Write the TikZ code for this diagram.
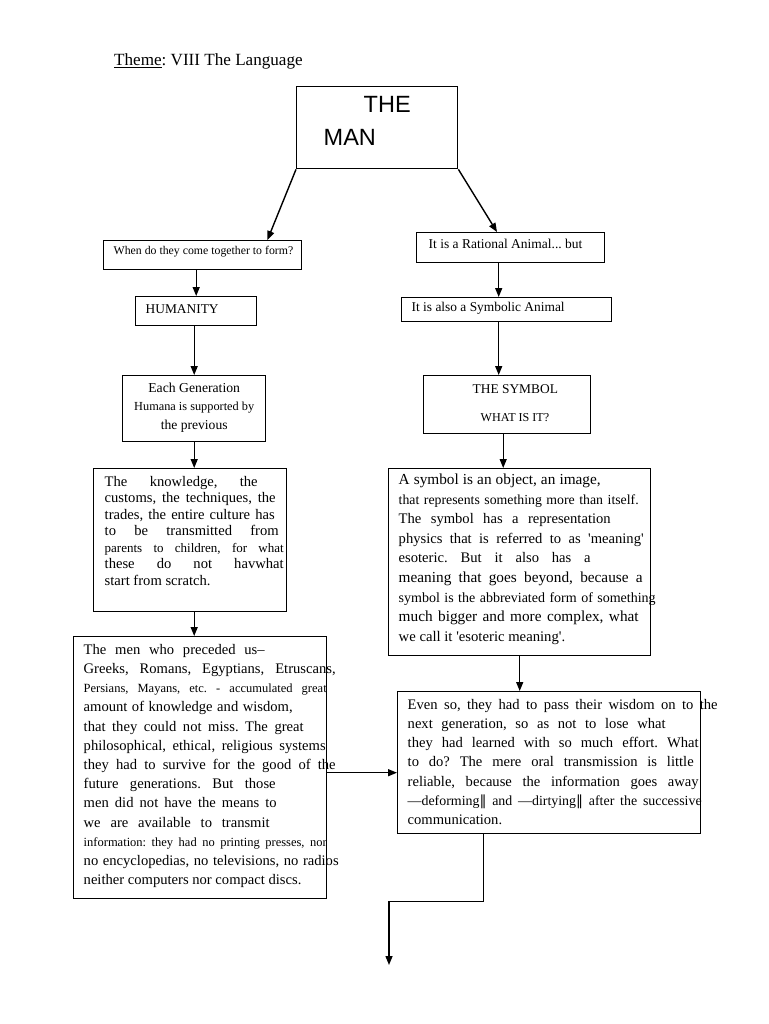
\documentclass[tikz,border=0pt]{standalone}
\usepackage{fontspec}
\setmainfont{Liberation Serif}[Ligatures=TeXOff]
\newfontfamily\arialfont{Liberation Sans}
\newfontfamily\dvfont{DejaVu Serif}
\usetikzlibrary{arrows.meta}
\frenchspacing

% font size helper, stretched line, box contents
\newcommand{\fs}[1]{\fontsize{#1}{#1}\selectfont}
\newcommand{\jl}[3]{{\fs{#1}\makebox[#2pt][s]{#3}}}
\newcommand{\boxbody}[6]{\parbox[c][#2pt][t]{#1pt}{\fontsize{14.6}{#5pt}\selectfont\vspace*{#3pt}\leftskip=#4pt\relax #6}}

\tikzset{
  box/.style={draw, line width=1.4pt, anchor=north west, inner sep=0pt},
  arr/.style={line width=1.4pt, -{Triangle[length=9pt,width=7pt]}},
}

\begin{document}
\begin{tikzpicture}[x=1pt,y=-1pt]
  \fill[white] (0,0) rectangle (768,1024);
  \useasboundingbox (0,0) rectangle (768,1024);

  \node[anchor=base west, inner sep=0pt, font=\fs{17.1}] (Theme) at (114,66) {\underline{Theme}: VIII The Language};

  \node[box] (Man) at (296,86) {\boxbody{161}{82}{9.4}{27}{33}{{\arialfont\fontsize{23.5}{33}\selectfont\hspace*{40pt}THE\\MAN}}};
  \node[box] (When) at (103,240) {\boxbody{198}{29}{5.7}{10}{14}{{\fs{11.8}When do they come together to form?}}};
  \node[box] (Ratio) at (416,232) {\boxbody{188}{30}{6.9}{12}{14}{{\fs{13.5}It is a Rational Animal... but}}};
  \node[box] (Human) at (135,296) {\boxbody{121}{29}{7.6}{10}{14}{{\fs{13.4}HUMANITY}}};
  \node[box] (Symb) at (401,297) {\boxbody{210}{24}{4.9}{10}{14}{{\fs{13.4}It is also a Symbolic Animal}}};
  \node[box] (Gen) at (122,375) {\boxbody{143}{66}{6.8}{0}{18.5}{\centering
    {\fs{13.7}Each Generation}\\ {\fs{12.3}Humana is supported by}\\ {\fs{13.6}the previous}}};
  \node[box] (Symbol) at (423,375) {\boxbody{167}{58}{8.6}{49}{28.6}{{\fs{13.4}THE SYMBOL}\\\hspace*{8pt}{\fs{12.1}WHAT IS IT?}}};

  \node[box] (Know) at (93,468) {\boxbody{193}{143}{7.4}{11}{16.5}{
    \jl{14.6}{153}{The knowledge, the}\\
    \jl{14.6}{171}{customs, the techniques, the}\\
    \jl{14.6}{170}{trades, the entire culture has}\\
    \jl{14.6}{174}{to be transmitted from}\\
    \jl{13}{179}{parents to children, for what}\\
    \jl{14.6}{179}{these do not havwhat}\\
    {\fs{14.6}start from scratch.}}};

  \node[box] (Mean) at (388,468) {\boxbody{262}{187}{5.1}{10}{19.6}{
    \jl{15.3}{202}{A symbol is an object, an image,}\\
    \jl{13.8}{240}{that represents something more than itself.}\\
    \jl{14.6}{212}{The symbol has a representation}\\
    \jl{14.6}{245}{physics that is referred to as 'meaning'}\\
    \jl{14.6}{192}{esoteric. But it also has a}\\
    \jl{15.3}{244}{meaning that goes beyond, because a}\\
    \jl{14}{257}{symbol is the abbreviated form of something}\\
    \jl{15.3}{240}{much bigger and more complex, what}\\
    {\fs{14.7}we call it 'esoteric meaning'.}}};

  \node[box] (Men) at (73,636) {\boxbody{253}{262}{7.4}{10}{19.2}{
    \jl{14.6}{181}{The men who preceded us–}\\
    \jl{14.6}{252}{Greeks, Romans, Egyptians, Etruscans,}\\
    \jl{12.5}{243}{Persians, Mayans, etc. - accumulated great}\\
    \jl{14.6}{209}{amount of knowledge and wisdom,}\\
    \jl{14.6}{220}{that they could not miss. The great}\\
    \jl{14.6}{242}{philosophical, ethical, religious systems}\\
    \jl{14.6}{252}{they had to survive for the good of the}\\
    \jl{14.6}{192}{future generations. But those}\\
    \jl{14.6}{193}{men did not have the means to}\\
    \jl{14.6}{186}{we are available to transmit}\\
    \jl{12.5}{243}{information: they had no printing presses, nor}\\
    \jl{14.6}{255}{no encyclopedias, no televisions, no radios}\\
    {\fs{14.6}neither computers nor compact discs.}}};

  \node[box] (Pass) at (397,691) {\boxbody{303}{142}{7.4}{10}{19.2}{
    \jl{14.6}{310}{Even so, they had to pass their wisdom on to the}\\
    \jl{14.6}{258}{next generation, so as not to lose what}\\
    \jl{14.6}{291}{they had learned with so much effort. What}\\
    \jl{14.6}{286}{to do? The mere oral transmission is little}\\
    \jl{14.6}{291}{reliable, because the information goes away}\\
    \jl{13.9}{294}{—deforming{\dvfont ‖} and —dirtying{\dvfont ‖} after the successive}\\
    {\fs{14.6}communication.}}};

  \coordinate (Next) at (389,965);

  % Connect the nodes
  \draw[arr] (Man.south west) -- ([xshift=-35pt]When.north east);
  \draw[arr] (Man.south east) -- ([xshift=81pt]Ratio.north west);
  \draw[arr] (When.south -| Human.north) -- (Human.north);
  \draw[arr] (Human.south -| Gen.north) -- (Gen.north);
  \draw[arr] (Gen.south) -- (Gen.south |- Know.north);
  \draw[arr] (Gen.south |- Know.south) -- (Gen.south |- Men.north);
  \draw[arr] ([xshift=-12pt]Ratio.south) -- ([xshift=-12pt]Ratio.south |- Symb.north);
  \draw[arr] ([xshift=-8pt]Symb.south) -- ([xshift=-8pt]Symb.south |- Symbol.north);
  \draw[arr] ([xshift=-4pt]Symbol.south) -- ([xshift=-4pt]Symbol.south |- Mean.north);
  \draw[arr] (Mean.south) -- (Mean.south |- Pass.north);
  \draw[arr] ([yshift=-5pt]Men.east) -- ([yshift=-5pt]Men.east -| Pass.west);
  \draw[arr] ([xshift=-65.5pt]Pass.south) -- ++(0,67) -| (Next);
\end{tikzpicture}
\end{document}
